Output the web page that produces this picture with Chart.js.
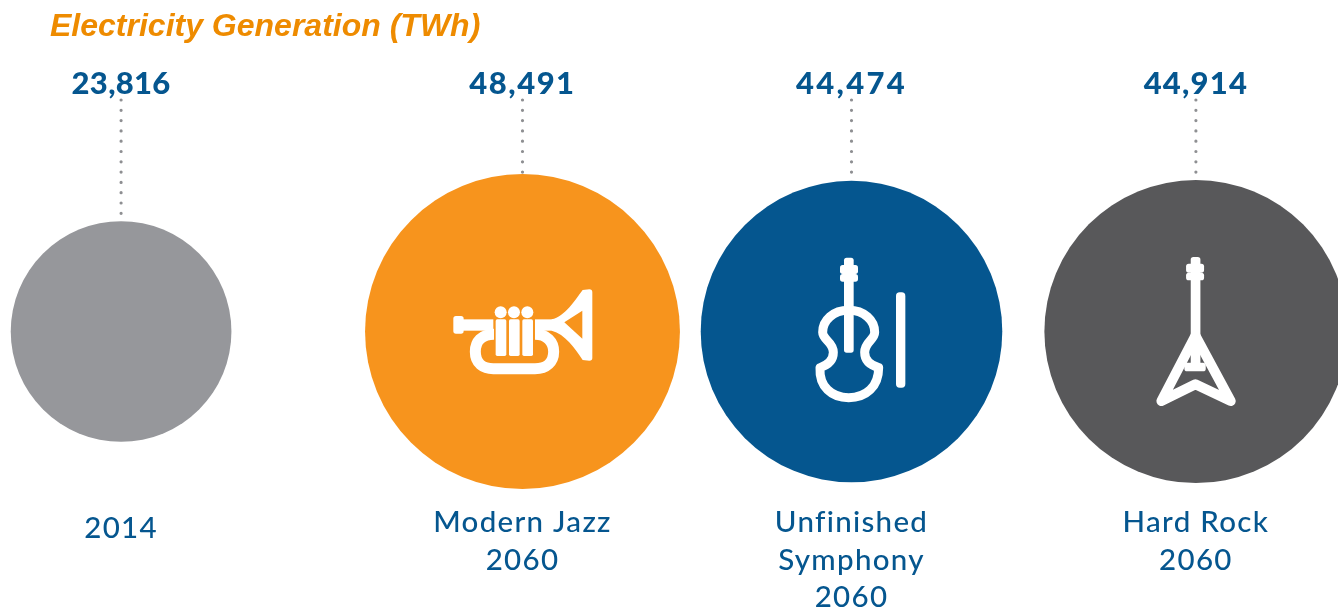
<!DOCTYPE html>
<html>
<head>
<meta charset="utf-8">
<style>html,body{margin:0;padding:0;background:#fff;overflow:hidden}canvas{display:block}</style>
<script src="https://cdn.jsdelivr.net/npm/chart.js@4/dist/chart.umd.min.js"></script>
</head>
<body>
<canvas id="c" width="1338" height="609"></canvas>
<script>
const chartTitle = "Electricity Generation (TWh)";
const categories = [["2014"], ["Modern Jazz", "2060"], ["Unfinished", "Symphony", "2060"], ["Hard Rock", "2060"]];
const values = [23816, 48491, 44474, 44914];
const valueLabels = ["23,816", "48,491", "44,474", "44,914"];
const valueTracking = [0.3, 1.5, 2.3, 1.2];
const slots = [9.05, 39.05, 63.64, 89.38];
const colors = ["#96979b", "#f7941d", "#05568f", "#58585a"];
const icons = [null, "trumpet", "violin", "guitar"];
const radiusPerSqrtValue = 0.715;

function rr(c, x, y, w, h, r) { c.beginPath(); c.roundRect(x, y, w, h, r); c.fill(); }
const drawIcon = {
  trumpet(c) {
    c.translate(-277.5, -184.5);
    rr(c, 70, 138, 31, 53, 8);
    c.fillRect(95, 148, 95, 34);
    c.fillRect(315, 148, 70, 34);
    for (const x of [197, 237, 277]) rr(c, x, 148, 32, 110, 5);
    for (const x of [212, 252, 292]) { c.beginPath(); c.arc(x, 127, 18, 0, 7); c.fill(); }
    c.beginPath();
    c.moveTo(192, 193); c.bezierCurveTo(155, 193, 136, 215, 136, 245);
    c.bezierCurveTo(136, 280, 160, 296, 190, 296);
    c.lineTo(315, 296);
    c.bezierCurveTo(350, 296, 371, 275, 371, 245);
    c.bezierCurveTo(371, 215, 350, 193, 315, 193);
    c.lineWidth = 33; c.strokeStyle = "#fff"; c.stroke();
    c.beginPath();
    c.moveTo(365, 148); c.bezierCurveTo(405, 140, 435, 90, 458, 60);
    c.lineTo(478, 58); c.quadraticCurveTo(487, 58, 487, 67);
    c.lineTo(487, 264); c.quadraticCurveTo(487, 272, 478, 272);
    c.lineTo(458, 270); c.bezierCurveTo(435, 235, 405, 192, 365, 182);
    c.closePath();
    c.moveTo(403, 157); c.lineTo(457, 122); c.lineTo(457, 206); c.closePath();
    c.fill("evenodd");
  },
  violin(c) {
    c.translate(-184.5, -259.5);
    rr(c, 162, 38, 29, 285, 8);
    rr(c, 150, 60, 54, 27, 8);
    rr(c, 150, 87, 54, 23, 8);
    c.beginPath();
    c.moveTo(176, 196);
    c.bezierCurveTo(130, 196, 98, 225, 98, 262);
    c.bezierCurveTo(98, 285, 130, 290, 130, 322);
    c.bezierCurveTo(130, 350, 108, 362, 90, 368);
    c.bezierCurveTo(87, 425, 125, 458, 176, 458);
    c.bezierCurveTo(228, 458, 266, 425, 266, 368);
    c.bezierCurveTo(245, 362, 224, 350, 224, 322);
    c.bezierCurveTo(224, 290, 254, 285, 254, 262);
    c.bezierCurveTo(254, 225, 222, 196, 176, 196);
    c.closePath();
    c.lineWidth = 27; c.lineJoin = "round"; c.strokeStyle = "#fff"; c.stroke();
    rr(c, 318, 142, 28, 286, 11);
  },
  guitar(c) {
    c.translate(-196.5, -259.5);
    rr(c, 181, 36, 29, 335, 8);
    rr(c, 167, 56, 54, 27, 8);
    rr(c, 167, 83, 54, 23, 8);
    rr(c, 162, 353, 64, 26, 8);
    c.beginPath();
    c.moveTo(195, 272); c.lineTo(93, 468); c.lineTo(195, 418); c.lineTo(301, 468); c.closePath();
    c.lineWidth = 30; c.lineJoin = "round"; c.strokeStyle = "#fff"; c.stroke();
  }
};

const overlay = {
  id: "overlay",
  afterDatasetsDraw(chart) {
    const c = chart.ctx;
    const pts = chart.getDatasetMeta(0).data;
    c.save();
    c.textAlign = "left"; c.textBaseline = "alphabetic";
    c.fillStyle = "#ee8b00";
    c.font = "italic bold 32px 'Liberation Sans'";
    c.fillText(chartTitle, 50, 36);
    pts.forEach((p, i) => {
      const r = p.options.radius;
      c.save();
      c.strokeStyle = "#8e8f92"; c.lineWidth = 3.2; c.lineCap = "round"; c.setLineDash([0, 10.3]);
      c.beginPath(); c.moveTo(p.x, 100); c.lineTo(p.x, p.y - r); c.stroke();
      c.restore();

      c.textAlign = "center";
      c.fillStyle = "#05568f";
      c.font = "900 31px Lato";
      c.letterSpacing = valueTracking[i] + "px";
      c.fillText(valueLabels[i], p.x, 94);

      c.font = "500 29.5px Lato";
      c.letterSpacing = "1.3px";
      const lines = categories[i];
      const start = lines.length === 1 ? 538 : 532;
      lines.forEach((t, j) => c.fillText(t, p.x, start + j * 37.5));
      c.letterSpacing = "0px";

      if (icons[i]) {
        c.save();
        c.translate(p.x, p.y); c.scale(1 / 3, 1 / 3);
        c.fillStyle = "#fff";
        drawIcon[icons[i]](c);
        c.restore();
      }
    });
    c.restore();
  }
};

new Chart(document.getElementById("c"), {
  type: "bubble",
  data: {
    datasets: [{
      label: chartTitle,
      data: values.map((v, i) => ({ x: slots[i], y: 0, r: radiusPerSqrtValue * Math.sqrt(v) })),
      backgroundColor: colors,
      borderWidth: 0,
      hoverBorderWidth: 0,
      clip: false
    }]
  },
  options: {
    responsive: false,
    animation: false,
    layout: { padding: 0, autoPadding: false },
    events: [],
    scales: {
      x: { type: "linear", min: 0, max: 100, display: false },
      y: { type: "linear", min: -0.837, max: 1, display: false }
    },
    plugins: { legend: { display: false }, tooltip: { enabled: false }, title: { display: false } }
  },
  plugins: [overlay]
});
</script>
</body>
</html>
